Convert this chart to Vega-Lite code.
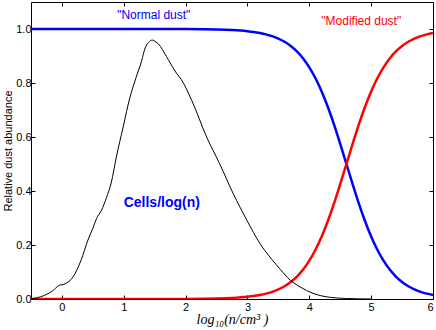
{
  "$schema": "https://vega.github.io/schema/vega-lite/v6.json",
  "width": 402,
  "height": 297,
  "autosize": {"type": "none"},
  "padding": {"left": 31, "top": 2, "right": 3, "bottom": 31},
  "background": "white",
  "config": {
    "view": {"stroke": "black", "strokeWidth": 1},
    "font": "Liberation Sans",
    "axis": {"grid": false, "domain": false, "tickColor": "black", "tickSize": -4, "labelColor": "black", "labelFont": "Liberation Sans", "labelFontSize": 11, "titleColor": "black", "titleFontWeight": "normal"}
  },
  "resolve": {"axis": {"x": "independent", "y": "independent"}},
  "datasets": {
    "dust": [
      {"x": -0.5, "y": 1.0, "s": "normal"}, {"x": 0, "y": 1.0, "s": "normal"}, {"x": 0.5, "y": 1.0, "s": "normal"}, {"x": 1, "y": 0.99998, "s": "normal"}, {"x": 1.5, "y": 0.99991, "s": "normal"}, {"x": 2, "y": 0.99959, "s": "normal"}, {"x": 2.5, "y": 0.9982, "s": "normal"}, {"x": 2.75, "y": 0.9961, "s": "normal"}, {"x": 3, "y": 0.9918, "s": "normal"}, {"x": 3.1, "y": 0.989, "s": "normal"}, {"x": 3.2, "y": 0.9852, "s": "normal"}, {"x": 3.3, "y": 0.9802, "s": "normal"}, {"x": 3.4, "y": 0.9734, "s": "normal"}, {"x": 3.5, "y": 0.9644, "s": "normal"}, {"x": 3.6, "y": 0.9526, "s": "normal"}, {"x": 3.7, "y": 0.937, "s": "normal"}, {"x": 3.8, "y": 0.9168, "s": "normal"}, {"x": 3.9, "y": 0.891, "s": "normal"}, {"x": 4.0, "y": 0.8581, "s": "normal"}, {"x": 4.1, "y": 0.8176, "s": "normal"}, {"x": 4.2, "y": 0.7685, "s": "normal"}, {"x": 4.3, "y": 0.7109, "s": "normal"}, {"x": 4.4, "y": 0.6457, "s": "normal"}, {"x": 4.5, "y": 0.5744, "s": "normal"}, {"x": 4.6, "y": 0.5, "s": "normal"}, {"x": 4.7, "y": 0.4256, "s": "normal"}, {"x": 4.8, "y": 0.3543, "s": "normal"}, {"x": 4.9, "y": 0.2891, "s": "normal"}, {"x": 5.0, "y": 0.2315, "s": "normal"}, {"x": 5.1, "y": 0.1824, "s": "normal"}, {"x": 5.2, "y": 0.1419, "s": "normal"}, {"x": 5.3, "y": 0.109, "s": "normal"}, {"x": 5.4, "y": 0.0832, "s": "normal"}, {"x": 5.5, "y": 0.063, "s": "normal"}, {"x": 5.6, "y": 0.0474, "s": "normal"}, {"x": 5.7, "y": 0.0356, "s": "normal"}, {"x": 5.8, "y": 0.0266, "s": "normal"}, {"x": 5.9, "y": 0.0198, "s": "normal"}, {"x": 6.0, "y": 0.0148, "s": "normal"},
      {"x": -0.5, "y": 0.0, "s": "modified"}, {"x": 0, "y": 0.0, "s": "modified"}, {"x": 0.5, "y": 0.0, "s": "modified"}, {"x": 1, "y": 0.00002, "s": "modified"}, {"x": 1.5, "y": 0.00009, "s": "modified"}, {"x": 2, "y": 0.00041, "s": "modified"}, {"x": 2.5, "y": 0.0018, "s": "modified"}, {"x": 2.75, "y": 0.0039, "s": "modified"}, {"x": 3, "y": 0.0082, "s": "modified"}, {"x": 3.1, "y": 0.011, "s": "modified"}, {"x": 3.2, "y": 0.0148, "s": "modified"}, {"x": 3.3, "y": 0.0198, "s": "modified"}, {"x": 3.4, "y": 0.0266, "s": "modified"}, {"x": 3.5, "y": 0.0356, "s": "modified"}, {"x": 3.6, "y": 0.0474, "s": "modified"}, {"x": 3.7, "y": 0.063, "s": "modified"}, {"x": 3.8, "y": 0.0832, "s": "modified"}, {"x": 3.9, "y": 0.109, "s": "modified"}, {"x": 4.0, "y": 0.1419, "s": "modified"}, {"x": 4.1, "y": 0.1824, "s": "modified"}, {"x": 4.2, "y": 0.2315, "s": "modified"}, {"x": 4.3, "y": 0.2891, "s": "modified"}, {"x": 4.4, "y": 0.3543, "s": "modified"}, {"x": 4.5, "y": 0.4256, "s": "modified"}, {"x": 4.6, "y": 0.5, "s": "modified"}, {"x": 4.7, "y": 0.5744, "s": "modified"}, {"x": 4.8, "y": 0.6457, "s": "modified"}, {"x": 4.9, "y": 0.7109, "s": "modified"}, {"x": 5.0, "y": 0.7685, "s": "modified"}, {"x": 5.1, "y": 0.8176, "s": "modified"}, {"x": 5.2, "y": 0.8581, "s": "modified"}, {"x": 5.3, "y": 0.891, "s": "modified"}, {"x": 5.4, "y": 0.9168, "s": "modified"}, {"x": 5.5, "y": 0.937, "s": "modified"}, {"x": 5.6, "y": 0.9526, "s": "modified"}, {"x": 5.7, "y": 0.9644, "s": "modified"}, {"x": 5.8, "y": 0.9734, "s": "modified"}, {"x": 5.9, "y": 0.9802, "s": "modified"}, {"x": 6.0, "y": 0.9852, "s": "modified"}
    ],
    "cells": [
      {"x": -0.5, "y": 0.0}, {"x": -0.3, "y": 0.012}, {"x": -0.15, "y": 0.03}, {"x": -0.05, "y": 0.05}, {"x": 0.05, "y": 0.056}, {"x": 0.18, "y": 0.082}, {"x": 0.31, "y": 0.144}, {"x": 0.42, "y": 0.218}, {"x": 0.5, "y": 0.262}, {"x": 0.56, "y": 0.298}, {"x": 0.64, "y": 0.329}, {"x": 0.72, "y": 0.375}, {"x": 0.8, "y": 0.433}, {"x": 0.88, "y": 0.526}, {"x": 0.99, "y": 0.637}, {"x": 1.1, "y": 0.747}, {"x": 1.2, "y": 0.821}, {"x": 1.29, "y": 0.883}, {"x": 1.34, "y": 0.926}, {"x": 1.4, "y": 0.95}, {"x": 1.46, "y": 0.959}, {"x": 1.52, "y": 0.952}, {"x": 1.56, "y": 0.945}, {"x": 1.69, "y": 0.898}, {"x": 1.85, "y": 0.837}, {"x": 1.93, "y": 0.813}, {"x": 2.1, "y": 0.735}, {"x": 2.34, "y": 0.6}, {"x": 2.55, "y": 0.501}, {"x": 2.77, "y": 0.39}, {"x": 2.99, "y": 0.292}, {"x": 3.2, "y": 0.206}, {"x": 3.4, "y": 0.145}, {"x": 3.53, "y": 0.11}, {"x": 3.69, "y": 0.07}, {"x": 3.85, "y": 0.045}, {"x": 4.06, "y": 0.021}, {"x": 4.34, "y": 0.006}, {"x": 4.6, "y": 0.002}, {"x": 5.0, "y": 0.0}
    ],
    "labels": [
      {"x": 1.485, "y": 1.053, "t": "\"Normal dust\"", "c": "blue"},
      {"x": 4.84, "y": 1.028, "t": "\"Modified dust\"", "c": "red"}
    ],
    "bold": [
      {"x": 1.615, "y": 0.355, "t": "Cells/log(n)"}
    ]
  },
  "layer": [
    {
      "data": {"name": "dust"},
      "mark": {"type": "line", "strokeWidth": 2.5, "interpolate": "monotone", "clip": true},
      "encoding": {
        "x": {"field": "x", "type": "quantitative", "scale": {"domain": [-0.5, 6], "nice": false, "zero": false},
          "axis": {"orient": "bottom", "values": [0, 1, 2, 3, 4, 5, 6], "format": "d", "labelPadding": 6, "title": "log₁₀(n/cm³ )", "titleFont": "Liberation Serif", "titleFontStyle": "italic", "titleFontSize": 14, "titlePadding": 0}},
        "y": {"field": "y", "type": "quantitative", "scale": {"domain": [0, 1.1], "nice": false},
          "axis": {"orient": "left", "values": [0, 0.2, 0.4, 0.6, 0.8, 1.0], "format": ".1f", "labelPadding": 4, "title": "Relative dust abundance", "titleFontSize": 11, "titlePadding": 2}},
        "color": {"field": "s", "type": "nominal", "scale": {"domain": ["normal", "modified"], "range": ["#0000ff", "#ff0000"]}, "legend": null}
      }
    },
    {
      "data": {"name": "cells"},
      "mark": {"type": "line", "strokeWidth": 1, "color": "black", "interpolate": "monotone"},
      "encoding": {
        "x": {"field": "x", "type": "quantitative", "axis": {"orient": "top", "values": [0, 1, 2, 3, 4, 5, 6], "labels": false, "title": null}},
        "y": {"field": "y", "type": "quantitative", "axis": {"orient": "right", "values": [0, 0.2, 0.4, 0.6, 0.8, 1.0], "labels": false, "title": null}}
      }
    },
    {
      "data": {"name": "labels"},
      "mark": {"type": "text", "fontSize": 12, "font": "Liberation Sans"},
      "encoding": {
        "x": {"field": "x", "type": "quantitative", "axis": null},
        "y": {"field": "y", "type": "quantitative", "axis": null},
        "text": {"field": "t"},
        "color": {"field": "c", "type": "nominal", "scale": null}
      }
    },
    {
      "data": {"name": "bold"},
      "mark": {"type": "text", "fontSize": 14, "fontWeight": "bold", "color": "#0000ff", "font": "Liberation Sans"},
      "encoding": {
        "x": {"field": "x", "type": "quantitative", "axis": null},
        "y": {"field": "y", "type": "quantitative", "axis": null},
        "text": {"field": "t"}
      }
    }
  ]
}
